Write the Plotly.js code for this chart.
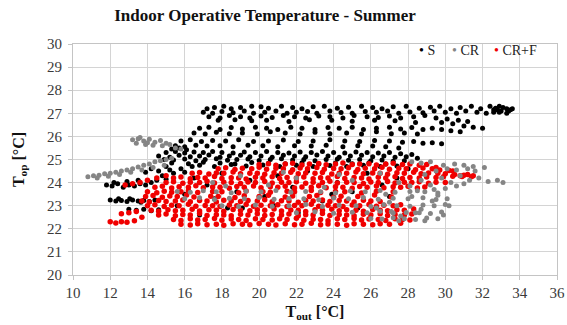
<!DOCTYPE html>
<html>
<head>
<meta charset="utf-8">
<script src="https://cdn.plot.ly/plotly-3.0.1.min.js"></script>
<style>html,body{margin:0;padding:0;background:#fff;}#chart{width:567px;height:325px;}</style>
</head>
<body>
<div id="chart"></div>
<script>
// Series names
const seriesNames = ["S", "CR", "CR+F"];
const seriesColors = ["#000000", "#858585", "#f00000"];
const xTickVals = [10,12,14,16,18,20,22,24,26,28,30,32,34,36];
const yTickVals = [20,21,22,23,24,25,26,27,28,29,30];

// S : [T_out, T_op]
const S_points = [
[17.2,27.2],[17.6,27.25],[18.1,27.3],[18.5,27.2],[19.0,27.25],[19.6,27.3],[20.1,27.28],[20.5,27.22],[21.2,27.3],[21.8,27.25],[22.3,27.2],[22.9,27.28],[23.5,27.3],[24.2,27.22],[24.8,27.26],[25.5,27.3],[26.1,27.25],[26.6,27.2],[27.2,27.28],[27.9,27.3],[28.6,27.22],[29.2,27.26],[29.7,27.3],[30.3,27.2],[30.8,27.25],[31.4,27.3],[31.9,27.2],[32.4,27.3],[32.8,27.15],[33.1,27.25],[33.4,27.1],[33.6,27.2],
[32.6,27.05],[33.0,27.1],[33.3,27.2],[32.9,27.3],[33.5,27.15],[32.7,27.22],
[17.0,27.05],[17.5,27.0],[18.0,27.08],[18.6,27.02],[19.2,27.1],[19.7,27.0],[20.3,27.05],[20.9,27.1],[21.5,27.0],[22.0,27.05],[22.6,27.08],[23.1,27.0],[23.8,27.1],[24.4,27.04],[25.0,27.0],[25.7,27.08],[26.3,27.05],[26.9,27.1],[27.5,27.0],[28.1,27.06],[28.8,27.02],[29.4,27.1],[30.0,27.05],[30.6,27.0],[31.1,27.1],[31.7,27.05],[32.2,27.0],[32.6,27.15],[32.9,27.05],[33.3,27.0],
[17.3,26.85],[17.9,26.8],[18.4,26.9],[19.0,26.85],[19.5,26.8],[20.1,26.88],[20.7,26.82],[21.3,26.9],[21.9,26.85],[22.5,26.8],[23.2,26.88],[23.8,26.85],[24.5,26.8],[25.1,26.9],[25.8,26.85],[26.4,26.82],[27.0,26.88],[27.6,26.8],[28.3,26.85],[28.9,26.9],[29.5,26.8],[30.1,26.75],[30.7,26.7],[31.2,26.65],
[29.8,26.6],[30.4,26.55],[31.0,26.45],[31.5,26.4],[32.0,26.35],
[17.8,26.7],[18.7,26.72],[19.6,26.68],[20.4,26.7],[21.6,26.65],[22.7,26.72],[23.9,26.7],[25.0,26.66],[26.2,26.7],[27.3,26.68],[28.4,26.6],
[16.8,26.35],[17.3,26.4],[17.9,26.3],[18.5,26.38],[19.1,26.32],[19.8,26.4],[20.4,26.35],[21.0,26.3],[21.7,26.4],[22.3,26.35],[23.0,26.3],[23.7,26.38],[24.3,26.35],[25.0,26.4],[25.6,26.3],[26.3,26.35],[27.0,26.4],[27.6,26.32],[28.2,26.38],[28.8,26.3],[29.3,26.35],[29.8,26.3],[30.3,26.25],[30.8,26.2],
[16.5,26.15],[17.1,26.1],[17.7,26.18],[18.4,26.12],[19.1,26.15],[19.9,26.1],[20.6,26.2],[21.4,26.15],[22.2,26.1],[23.0,26.18],[23.8,26.12],[24.7,26.15],[25.5,26.1],[26.3,26.2],[27.1,26.12],[27.8,26.15],[28.5,26.1],
[15.8,25.8],[16.3,25.85],[16.9,25.78],[17.5,25.82],[18.2,25.8],[18.9,25.85],[19.7,25.78],[20.5,25.8],[21.3,25.84],[22.1,25.78],[22.9,25.8],[23.8,25.85],[24.6,25.8],[25.4,25.78],[26.2,25.82],[27.0,25.8],[27.7,25.75],[28.3,25.78],[28.8,25.7],[29.3,25.72],[29.8,25.68],
[15.5,25.6],[16.0,25.55],[16.6,25.62],[17.2,25.58],[17.9,25.6],[18.6,25.55],[19.4,25.62],[20.2,25.6],[21.0,25.55],[21.9,25.6],[22.8,25.58],[23.6,25.62],[24.5,25.55],[25.3,25.6],[26.1,25.58],[26.8,25.55],[27.5,25.5],
[15.3,25.45],[15.7,25.5],[16.1,25.42],
[15.0,25.3],[15.5,25.35],[16.0,25.28],[16.5,25.32],[17.0,25.3],[17.5,25.35],[18.0,25.3],[18.6,25.28],[19.2,25.33],[19.8,25.3],[20.4,25.35],[21.0,25.3],[21.6,25.28],[22.2,25.32],[22.8,25.3],[23.4,25.35],[24.0,25.3],[24.6,25.28],[25.2,25.32],[25.8,25.3],[26.4,25.28],[27.0,25.3],[27.6,25.25],[28.2,25.22],
[14.6,25.15],[15.2,25.1],[15.7,25.18],[16.3,25.12],[16.8,25.15],[17.3,25.2],[17.9,25.1],[18.4,25.15],[19.0,25.18],[19.5,25.12],[20.1,25.15],[20.7,25.1],[21.3,25.18],[21.9,25.15],[22.5,25.12],[23.1,25.2],[23.7,25.15],[24.3,25.1],[24.9,25.15],[25.5,25.18],[26.1,25.12],[26.7,25.15],[27.3,25.1],[27.9,25.12],[28.5,25.05],
[14.9,25.0],[15.4,24.98],[16.0,25.02],[16.6,24.95],[17.1,25.0],[17.7,25.03],[18.3,24.97],[18.8,25.0],[19.4,25.02],[20.0,24.96],[20.6,25.0],[21.2,25.03],[21.8,24.98],[22.4,25.0],[23.0,24.95],[23.6,25.0],[24.2,25.02],[24.8,24.97],[25.4,25.0],[26.0,24.95],[26.6,24.98],[27.2,24.92],[27.8,24.95],
[15.3,24.85],[16.2,24.82],[17.0,24.88],[17.9,24.85],[18.7,24.8],[19.6,24.87],[20.5,24.84],[21.4,24.82],[22.3,24.86],[23.2,24.8],[24.1,24.85],[25.0,24.82],[25.9,24.86],[26.8,24.8],
[16.8,24.75],[17.6,24.7],[18.5,24.78],[19.3,24.72],[20.2,24.76],[21.1,24.7],[22.0,24.75],[22.9,24.7],[23.8,24.74],[24.7,24.7],[25.6,24.75],[26.5,24.7],[27.4,24.72],
[14.2,24.6],[14.6,24.5],[15.0,24.7],[15.4,24.4],[15.8,24.6],[14.8,24.3],[15.2,24.55],[16.0,24.45],[13.9,24.45],[16.4,24.7],
[11.8,23.9],[12.1,23.85],[12.4,23.95],[12.7,23.8],[13.0,23.9],[13.3,23.85],[13.6,23.95],[13.9,23.9],[14.2,24.0],[12.2,24.0],[12.9,24.05],[13.5,24.1],[14.5,24.1],[15.0,24.15],
[12.0,23.25],[12.3,23.2],[12.6,23.22],[12.9,23.18],[13.2,23.25],[13.5,23.2],[13.8,23.22],[14.1,23.18],[14.4,23.25],[12.45,23.3],[13.05,23.3],[13.65,23.15],
[13.0,22.85],[13.4,22.8],[13.8,22.85],[14.2,22.78],[14.6,22.82],
[16.5,24.2],[17.2,23.9],[18.0,24.4],[18.8,23.6],[19.5,24.1],[20.3,23.4],[21.0,24.3],[21.8,23.8],[22.6,24.5],[23.4,23.2],[24.2,24.0],[25.0,23.6],[25.8,24.4],[26.6,23.9],[27.4,24.2],[16.0,23.5],[17.6,23.3],[19.1,22.9],[20.8,23.0],[22.1,22.7],[23.9,23.5],[25.3,22.9],[27.0,23.4],[28.0,24.6],[15.6,23.0],[16.8,22.6],[18.3,22.9]
];

// CR : [T_out, T_op]
const CR_points = [
[13.2,25.85],[13.5,25.9],[13.8,25.8],[14.1,25.88],[14.4,25.75],[14.7,25.82],[15.0,25.7],[13.4,25.7],[13.9,25.65],[14.3,25.62],[14.8,25.6],[15.2,25.65],[13.6,25.95],[14.0,25.72],[15.5,25.5],[15.8,25.45],
[10.8,24.25],[11.1,24.3],[11.4,24.32],[11.7,24.38],[12.0,24.4],[12.3,24.45],[12.6,24.5],[12.9,24.55],[13.2,24.6],[13.5,24.68],[13.8,24.75],[14.1,24.8],[14.4,24.9],[14.7,24.95],[15.0,25.0],[15.3,25.05],[11.3,24.2],[11.9,24.28],[12.5,24.35],[13.1,24.45],[13.7,24.55],[14.3,24.65],[14.9,24.75],
[15.6,23.62],[16.3,23.58],[17.0,23.65],[17.7,23.6],[18.5,23.56],[19.3,23.63],[20.1,23.6],[20.9,23.66],[21.7,23.58],[22.5,23.62],[23.3,23.6],[24.1,23.55],[24.9,23.64],[25.7,23.6],[26.5,23.66],[27.3,23.58],[28.1,23.62],[28.9,23.6],[29.6,23.55],
[16.0,23.3],[16.8,23.34],[17.6,23.27],[18.4,23.32],[19.2,23.3],[20.0,23.36],[20.8,23.28],[21.6,23.31],[22.4,23.3],[23.2,23.26],[24.0,23.33],[24.8,23.3],[25.6,23.35],[26.4,23.28],[27.2,23.32],[28.0,23.3],[28.8,23.34],[29.5,23.27],[30.1,23.3],
[18.0,23.0],[18.9,22.96],[19.8,23.03],[20.7,22.98],[21.6,23.0],[22.5,23.05],[23.4,22.97],[24.3,23.02],[25.2,23.0],[26.0,22.96],[26.7,23.04],[27.4,23.0],[28.1,22.98],[28.8,23.03],[29.4,23.0],[30.0,23.05],
[22.0,22.7],[23.0,22.74],[24.0,22.67],[25.0,22.72],[25.8,22.7],[26.5,22.76],[27.2,22.68],[27.9,22.71],[28.6,22.7],[29.2,22.66],[29.8,22.73],
[26.0,22.45],[26.6,22.42],[27.2,22.48],[27.8,22.44],[28.4,22.4],[29.0,22.47],[29.6,22.43],
[26.3,22.9],[27.0,23.15],[27.6,22.55],[28.2,23.4],[28.7,22.85],[29.3,23.2],[29.9,22.6],[30.2,23.0],[26.8,23.5],[27.5,22.35],[28.9,22.35],[29.6,23.45],[28.4,22.7],[27.1,22.75],
[27.5,24.0],[28.1,23.85],[28.7,24.1],[29.2,23.9],[29.8,24.2],[30.3,24.0],[30.8,24.3],[31.3,24.1],[31.8,24.2],[32.3,24.05],[32.8,24.1],[33.1,24.0],[29.5,24.5],[30.1,24.6],[30.6,24.55],[31.2,24.6],[31.6,24.5],[32.1,24.65],[29.9,24.75],[30.5,24.8],[31.0,24.75],[31.5,24.7],[28.9,24.35],[29.4,23.7],[30.0,23.75],[30.6,23.85],[31.0,23.95],[28.5,23.65],
[28.2,24.9],[28.7,24.85],[29.2,24.9],
[17.5,24.0],[19.0,24.3],[20.5,23.9],[22.0,24.2],[23.5,23.8],[25.0,24.1],[26.5,24.4],[18.2,23.85],[21.3,24.45],[24.3,24.35]
];

// CR+F : [T_out, T_op]
const CRF_points = [
[20.0,24.78],[20.5,24.82],[20.9,24.75],[21.4,24.8],[21.8,24.84],[22.3,24.76],[22.7,24.8],[23.2,24.83],[23.6,24.77],[24.1,24.8],[24.5,24.85],[25.0,24.78],[25.4,24.8],[25.9,24.82],[26.3,24.76],[26.8,24.8],[27.2,24.84],[27.7,24.78],[28.1,24.8],[28.6,24.75],[29.0,24.78],
[17.8,24.6],[18.2,24.64],[18.7,24.57],[19.1,24.62],[19.6,24.6],[20.0,24.66],[20.4,24.58],[20.9,24.62],[21.3,24.6],[21.8,24.56],[22.2,24.63],[22.6,24.6],[23.1,24.65],[23.5,24.58],[24.0,24.61],[24.4,24.6],[24.8,24.64],[25.3,24.57],[25.7,24.62],[26.2,24.6],[26.6,24.66],[27.0,24.58],[27.5,24.62],[27.9,24.6],[28.4,24.56],[28.8,24.63],[29.3,24.6],[29.7,24.55],[30.2,24.52],
[16.4,24.4],[16.8,24.44],[17.3,24.37],[17.7,24.42],[18.1,24.4],[18.6,24.46],[19.0,24.38],[19.5,24.41],[19.9,24.4],[20.3,24.36],[20.8,24.43],[21.2,24.4],[21.7,24.45],[22.1,24.38],[22.5,24.42],[23.0,24.4],[23.4,24.44],[23.9,24.37],[24.3,24.41],[24.7,24.4],[25.2,24.46],[25.6,24.38],[26.1,24.42],[26.5,24.4],[26.9,24.36],[27.4,24.43],[27.8,24.4],[28.3,24.45],[28.7,24.38],[29.1,24.42],[29.6,24.4],[30.0,24.38],[30.5,24.35],[31.0,24.32],
[15.4,24.2],[15.8,24.24],[16.3,24.17],[16.7,24.22],[17.1,24.2],[17.6,24.26],[18.0,24.18],[18.5,24.21],[18.9,24.2],[19.3,24.16],[19.8,24.23],[20.2,24.2],[20.7,24.25],[21.1,24.18],[21.5,24.22],[22.0,24.2],[22.4,24.24],[22.9,24.17],[23.3,24.21],[23.7,24.2],[24.2,24.26],[24.6,24.18],[25.1,24.22],[25.5,24.2],[25.9,24.16],[26.4,24.23],[26.8,24.2],[27.3,24.25],[27.7,24.18],[28.1,24.22],[28.6,24.2],[29.0,24.24],[29.5,24.22],[29.9,24.25],[30.4,24.28],[30.9,24.26],[31.4,24.25],
[15.0,24.0],[15.4,24.04],[15.9,23.97],[16.3,24.02],[16.8,24.0],[17.2,24.06],[17.6,23.98],[18.1,24.01],[18.5,24.0],[19.0,23.96],[19.4,24.03],[19.8,24.0],[20.3,24.05],[20.7,23.98],[21.2,24.02],[21.6,24.0],[22.0,24.04],[22.5,23.97],[22.9,24.01],[23.4,24.0],[23.8,24.06],[24.2,23.98],[24.7,24.02],[25.1,24.0],[25.6,23.96],[26.0,24.03],[26.4,24.0],[26.9,24.05],[27.3,23.98],[27.8,24.02],[28.2,24.0],[28.6,24.04],[29.1,23.97],[29.5,24.01],[30.0,24.0],
[14.4,23.8],[14.8,23.84],[15.3,23.77],[15.7,23.82],[16.2,23.8],[16.6,23.86],[17.0,23.78],[17.5,23.81],[17.9,23.8],[18.4,23.76],[18.8,23.83],[19.2,23.8],[19.7,23.85],[20.1,23.78],[20.6,23.82],[21.0,23.8],[21.4,23.84],[21.9,23.77],[22.3,23.81],[22.8,23.8],[23.2,23.86],[23.6,23.78],[24.1,23.82],[24.5,23.8],[25.0,23.76],[25.4,23.83],[25.8,23.8],[26.3,23.85],[26.7,23.78],[27.2,23.82],[27.6,23.8],[28.0,23.84],[28.5,23.77],[28.9,23.81],
[14.0,23.6],[14.5,23.56],[14.9,23.63],[15.3,23.58],[15.8,23.6],[16.2,23.65],[16.7,23.57],[17.5,23.62],[18.0,23.6],[18.9,23.56],[19.3,23.64],[20.2,23.6],[20.6,23.58],[21.5,23.63],[21.9,23.6],[22.8,23.66],[23.3,23.57],[24.1,23.61],[24.6,23.6],[25.5,23.55],[26.3,23.63],[27.2,23.6],
[13.9,23.4],[14.3,23.44],[14.8,23.37],[15.2,23.42],[15.6,23.4],[16.1,23.46],[16.5,23.38],[17.4,23.41],[17.8,23.4],[18.7,23.36],[19.2,23.43],[20.0,23.4],[20.5,23.45],[21.4,23.38],[21.8,23.42],[22.7,23.4],[23.1,23.44],[24.0,23.37],[24.4,23.41],[25.3,23.4],[26.2,23.46],[27.1,23.38],
[13.7,23.2],[14.1,23.16],[14.6,23.23],[15.0,23.18],[15.5,23.2],[15.9,23.25],[16.3,23.17],[16.8,23.22],[17.2,23.2],[17.7,23.16],[18.1,23.24],[18.5,23.2],[19.0,23.18],[19.4,23.23],[19.9,23.2],[20.3,23.26],[20.7,23.17],[21.2,23.21],[21.6,23.2],[22.1,23.15],[22.5,23.23],[22.9,23.2],[23.4,23.25],[23.8,23.18],[24.3,23.22],[24.7,23.2],[25.1,23.16],[25.6,23.24],[26.0,23.2],[26.5,23.18],
[14.0,23.0],[14.4,23.04],[14.9,22.97],[15.3,23.02],[15.7,23.0],[16.2,23.06],[16.6,22.98],[17.1,23.01],[17.5,23.0],[17.9,22.96],[18.4,23.03],[18.8,23.0],[19.3,23.05],[19.7,22.98],[20.1,23.02],[20.6,23.0],[21.0,23.04],[21.5,22.97],[21.9,23.01],[22.3,23.0],[22.8,23.06],[23.2,22.98],[23.7,23.02],[24.1,23.0],[24.5,22.96],[25.0,23.03],[25.4,23.0],[25.9,23.05],[26.3,22.98],[26.7,23.02],[27.2,23.0],[27.6,23.04],
[14.2,22.8],[14.6,22.76],[15.1,22.83],[15.5,22.78],[15.9,22.8],[16.4,22.85],[16.8,22.77],[17.3,22.82],[17.7,22.8],[18.1,22.76],[18.6,22.84],[19.0,22.8],[19.5,22.78],[19.9,22.83],[20.3,22.8],[20.8,22.86],[21.2,22.77],[21.7,22.81],[22.1,22.8],[22.5,22.75],[23.0,22.83],[23.4,22.8],[23.9,22.85],[24.3,22.78],[24.7,22.82],[25.2,22.8],[25.6,22.76],[26.1,22.84],[26.5,22.8],[26.9,22.78],[27.4,22.83],[27.8,22.8],[28.3,22.86],
[14.6,22.6],[15.0,22.64],[15.5,22.57],[15.9,22.62],[16.3,22.6],[16.8,22.66],[17.2,22.58],[17.7,22.61],[18.1,22.6],[18.5,22.56],[19.0,22.63],[19.4,22.6],[19.9,22.65],[20.3,22.58],[20.7,22.62],[21.2,22.6],[21.6,22.64],[22.1,22.57],[22.5,22.61],[22.9,22.6],[23.4,22.66],[23.8,22.58],[24.3,22.62],[24.7,22.6],[25.1,22.56],[25.6,22.63],[26.0,22.6],[26.5,22.65],[26.9,22.58],[27.3,22.62],[27.8,22.6],[28.2,22.64],
[15.4,22.4],[15.8,22.36],[16.3,22.43],[16.7,22.38],[17.1,22.4],[17.6,22.45],[18.0,22.37],[18.5,22.42],[18.9,22.4],[19.3,22.36],[19.8,22.44],[20.2,22.4],[20.7,22.38],[21.1,22.43],[21.5,22.4],[22.0,22.46],[22.4,22.37],[22.9,22.41],[23.3,22.4],[23.7,22.35],[24.2,22.43],[24.6,22.4],[25.1,22.45],[25.5,22.38],[25.9,22.42],[26.4,22.4],[26.8,22.36],[27.3,22.44],[27.7,22.4],[28.1,22.38],
[15.8,22.2],[16.3,22.16],[16.7,22.22],[17.2,22.18],[17.7,22.2],[18.1,22.15],[18.6,22.22],[19.1,22.2],[19.5,22.17],[20.0,22.23],[20.5,22.2],[20.9,22.16],[21.4,22.22],[21.9,22.18],[22.3,22.2],[22.8,22.24],[23.3,22.17],[23.7,22.21],[24.2,22.2],[24.7,22.15],[25.1,22.22],[25.6,22.2],[26.1,22.18],[26.5,22.22],[27.0,22.2],[27.6,22.24],
[12.0,22.3],[12.3,22.25],[12.6,22.3],[12.9,22.28],[13.3,22.35],[13.7,22.5],[12.8,23.9],[13.2,23.95],[13.6,24.0],[12.6,22.65],[13.0,22.7],[13.4,22.75],[14.0,24.1],[14.5,24.2],[15.0,24.3],
[30.8,24.3],[31.2,24.35],[31.5,24.3],[30.4,24.5],[29.5,24.65]
];

const allPoints = [S_points, CR_points, CRF_points];
const markerSizes = [5, 5, 5.5];
const drawOrder = [0, 2, 1];
const serif = "Liberation Serif";

const traces = drawOrder.map(i => ({
  type: 'scatter',
  mode: 'markers',
  name: seriesNames[i],
  x: allPoints[i].map(p => p[0]),
  y: allPoints[i].map(p => p[1]),
  marker: {color: seriesColors[i], size: markerSizes[i], line: {width: 0}},
  showlegend: false
}));

const px2x = px => (px - 73) / 484;
const py2y = py => (275 - py) / 231;

const legendAnn = seriesNames.map((n, i) => ({
  xref: 'paper', yref: 'paper',
  x: px2x([417, 450, 492][i]), y: py2y(51),
  xanchor: 'left', yanchor: 'middle',
  showarrow: false,
  text: '<span style="color:' + seriesColors[i] + '">•</span> ' + n,
  font: {family: serif, size: 14, color: '#222222'}
}));

const axisCommon = {
  showgrid: true, gridcolor: '#d4d4d4', gridwidth: 1,
  showline: true, linecolor: '#c4c4c4', linewidth: 1, mirror: true,
  ticks: 'outside', ticklen: 4, tickcolor: '#c4c4c4',
  tickfont: {family: serif, size: 15, color: '#3a3a3a'},
  zeroline: false, fixedrange: true
};

const layout = {
  width: 567, height: 325,
  font: {family: serif, size: 14, color: '#222222'},
  margin: {l: 73, r: 10, t: 44, b: 50, pad: 0},
  paper_bgcolor: '#ffffff', plot_bgcolor: '#ffffff',
  title: {
    text: '<b>Indoor Operative Temperature - Summer</b>',
    font: {family: serif, size: 17, color: '#111111'},
    xref: 'container', x: 265 / 567, xanchor: 'center',
    yref: 'container', y: 1 - 15 / 325, yanchor: 'middle'
  },
  xaxis: Object.assign({}, axisCommon, {
    range: [10, 36], tickvals: xTickVals,
    title: {text: '<b>T<sub>out</sub> [°C]</b>', font: {family: serif, size: 16, color: '#111111'}, standoff: 5}
  }),
  yaxis: Object.assign({}, axisCommon, {
    range: [20, 30], tickvals: yTickVals, ticklabelstandoff: 3,
    title: {text: '<b>T<sub>op</sub> [°C]</b>', font: {family: serif, size: 16, color: '#111111'}, standoff: 18}
  }),
  showlegend: false,
  annotations: legendAnn
};

Plotly.newPlot('chart', traces, layout, {displayModeBar: false, staticPlot: true});
</script>
</body>
</html>
